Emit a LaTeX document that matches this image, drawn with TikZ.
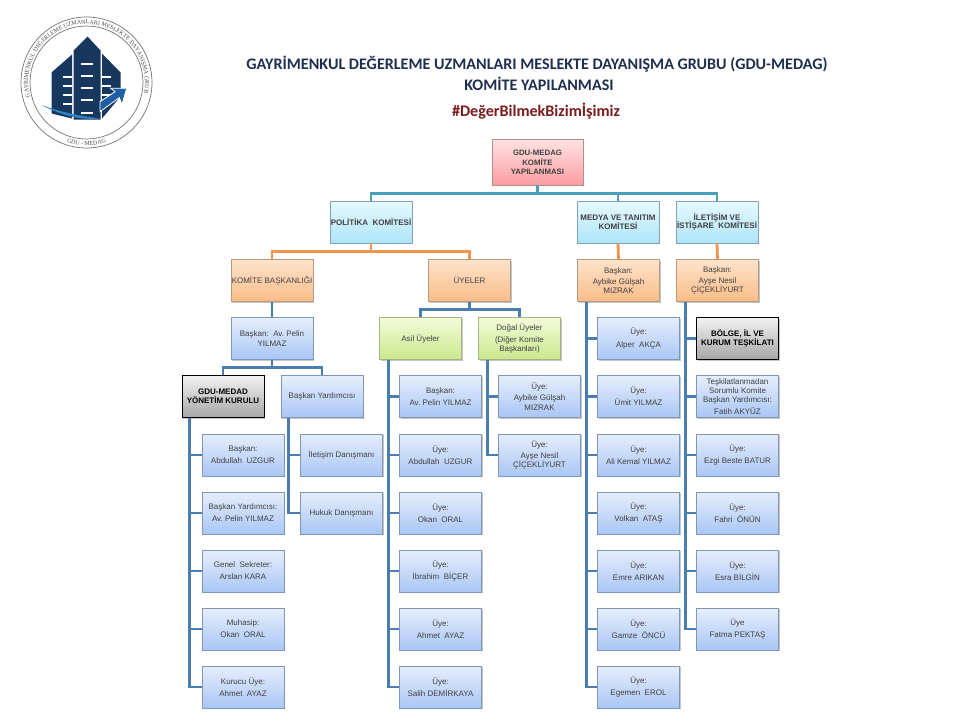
\documentclass[tikz,border=0pt]{standalone}
\usepackage{fontspec}
\setmainfont{Liberation Sans}
\newfontfamily\titlefont{Carlito}
\newfontfamily\logofont{Liberation Serif}
\usetikzlibrary{calc}
\usetikzlibrary{shadows}
\usetikzlibrary{decorations.text}

\definecolor{logoblue}{HTML}{17375E}
\definecolor{logoarrow}{HTML}{1F5FA8}
\definecolor{logoswoosh}{HTML}{2E86C8}
\definecolor{titleblue}{HTML}{1F2F4F}
\definecolor{titlered}{HTML}{7B1C1C}
\definecolor{buscolor}{HTML}{4B9DBA}
\definecolor{orangeline}{HTML}{F0964E}
\definecolor{stemcolor}{HTML}{4A7EB0}
\definecolor{bluetop}{HTML}{E6EEFC}
\definecolor{bluebot}{HTML}{A9C6F5}
\definecolor{blueedge}{HTML}{8096B5}
\definecolor{cyantop}{HTML}{E8F9FF}
\definecolor{cyanbot}{HTML}{ADE5F8}
\definecolor{cyanedge}{HTML}{7FA3B5}
\definecolor{orangetop}{HTML}{FFE3CC}
\definecolor{orangebot}{HTML}{F9BC88}
\definecolor{orangeedge}{HTML}{B59A80}
\definecolor{greentop}{HTML}{F3FBD8}
\definecolor{greenbot}{HTML}{CBE88F}
\definecolor{greenedge}{HTML}{A3B585}
\definecolor{redtop}{HTML}{FFE3E3}
\definecolor{redbot}{HTML}{FB9DA0}
\definecolor{rededge}{HTML}{B58C8C}

\tikzset{
  box/.style={draw=#1, line width=0.5pt, rectangle, minimum width=82pt, minimum height=42pt,
    inner sep=0pt, align=center, text=black!75, font=\fontsize{8}{9.2}\selectfont,
    drop shadow={shadow xshift=1pt, shadow yshift=-1.2pt, opacity=0.45}},
  bluebox/.style={box=blueedge, top color=bluetop, bottom color=bluebot},
  orangebox/.style={box=orangeedge, top color=orangetop, bottom color=orangebot},
  greenbox/.style={box=greenedge, top color=greentop, bottom color=greenbot},
  cyanbox/.style={box=cyanedge, top color=cyantop, bottom color=cyanbot,
    font=\fontsize{8}{8.8}\selectfont\bfseries},
  redbox/.style={box=rededge, top color=redtop, bottom color=redbot,
    font=\fontsize{7.8}{8.6}\selectfont\bfseries},
  greybox/.style={box=black, line width=0.9pt, top color=black!5, bottom color=black!35, text=black,
    font=\fontsize{8}{8.8}\selectfont\bfseries},
  topline/.style={draw=buscolor, line width=2.8pt},
  orangelink/.style={draw=orangeline, line width=2.8pt},
  bluelink/.style={draw=stemcolor, line width=2.8pt},
  titletext/.style={font=\titlefont\bfseries\fontsize{16.1}{18}\selectfont, text=titleblue, inner sep=0pt}
}

\begin{document}
\begin{tikzpicture}[x=1pt,y=-1pt]
  \useasboundingbox (0,0) rectangle (960,720);
  \fill[white] (0,0) rectangle (960,720);

  % logo
  \begin{scope}[shift={(86.5,82.5)},y=1pt]
    \draw[black!55, line width=0.7pt] (0,0) circle (65.5);
    \draw[black!55, line width=0.7pt] (0,0) circle (56.5);
    \path[decorate, decoration={text along path, text align=center,
      text={|\logofont\fontsize{6}{6}\selectfont\color{black!70}|GAYRİMENKUL DEĞERLEME UZMANLARI MESLEKTE DAYANIŞMA GRUBU}}]
      (192:58.5) arc (192:-12:58.5);
    \path[decorate, decoration={text along path, text align=center,
      text={|\logofont\fontsize{6}{6}\selectfont\color{black!70}|GDU - MEDAG}}]
      (240:63) arc (240:300:63);
    \fill[logoblue] (-13,32) -- (1,46) -- (14,32) -- (14,-37) -- (-13,-37) -- cycle;
    \fill[logoblue] (-35,10) -- (-14.5,28) -- (-14.5,-36) -- (-35,-31) -- cycle;
    \fill[logoblue] (15.5,29) -- (34,10) -- (34,-14) -- (15.5,-36) -- cycle;
    \fill[white] (-24,4.5) rectangle (-14.5,6.5);
    \fill[white] (-24,-4.5) rectangle (-14.5,-2.5);
    \fill[white] (-24,-13.5) rectangle (-14.5,-11.5);
    \fill[white] (-24,-22.5) rectangle (-14.5,-20.5);
    \fill[white] (-5.5,17.5) rectangle (6,19.5);
    \fill[white] (-5.5,5.5) rectangle (6,7.5);
    \fill[white] (-5.5,-6.5) rectangle (6,-4.5);
    \fill[white] (-5.5,-18.5) rectangle (6,-16.5);
    \fill[white] (-5.5,-31) rectangle (6,-29);
    \fill[white] (15.5,4.5) rectangle (24.5,6.5);
    \fill[white] (15.5,-4.5) rectangle (24.5,-2.5);
    \fill[white] (15.5,-13.5) rectangle (24.5,-11.5);
    \filldraw[fill=logoarrow, draw=white, line width=0.8pt] (13.5,-19.2) -- (28.5,-9.2) -- (24.2,-5.8) -- (40.2,-5.8)
      -- (35.5,-21.8) -- (32.8,-15.2) -- (13.5,-29.2) -- cycle;
    \fill[logoswoosh] (-44.8,-22.5) .. controls (-25,-30) and (-5,-34) .. (13.5,-35.8)
      .. controls (-5,-38) and (-25,-33) .. (-44.8,-22.5);
  \end{scope}

  % titles
  \node[titletext] (titleone) at (537,64) {GAYRİMENKUL DEĞERLEME UZMANLARI MESLEKTE DAYANIŞMA GRUBU (GDU-MEDAG)};
  \node[titletext] (titletwo) at (539,84) {KOMİTE YAPILANMASI};
  \node[titletext, text=titlered] (titlethree) at (536,111) {\#DeğerBilmekBizimİşimiz};

  % top of the chart
  \node[redbox, minimum width=91pt, minimum height=46pt] (root) at (537.5,162) {GDU-MEDAG\\[2pt]KOMİTE\\YAPILANMASI};
  \node[cyanbox] (politika) at (371,222) {POLİTİKA\ \ KOMİTESİ};
  \node[cyanbox] (medya) at (618,222) {MEDYA VE TANITIM\\KOMİTESİ};
  \node[cyanbox] (iletisim) at (717,222) {İLETİŞİM VE\\İSTİŞARE\ \ KOMİTESİ};

  \node[orangebox] (baskanlik) at (272,280.5) {KOMİTE BAŞKANLIĞI};
  \node[orangebox] (uyeler) at (469.5,280.5) {ÜYELER};
  \node[orangebox] (medyabaskan) at (618.5,280.5) {Başkan:\\[2pt]Aybike Gülşah\\MIZRAK};
  \node[orangebox] (iletisimbaskan) at (717.5,280.5) {Başkan:\\[2pt]Ayşe Nesil\\ÇİÇEKLİYURT};

  \node[bluebox] (pelin) at (272,338.5) {Başkan:\ \ Av.\ Pelin\\YILMAZ};
  \node[greybox] (yonetim) at (223,396.5) {GDU-MEDAD\\YÖNETİM KURULU};
  \node[bluebox] (yardimci) at (322,396.5) {Başkan Yardımcısı};
  \node[greenbox] (asil) at (420.5,338.5) {Asil Üyeler};
  \node[greenbox] (dogal) at (519.5,338.5) {Doğal Üyeler\\[2pt](Diğer Komite\\Başkanları)};

  % yonetim kurulu
  \node[bluebox] (yk1) at (243,455) {Başkan:\\[3pt]Abdullah\ \ UZGUR};
  \node[bluebox] (yk2) at (243,513) {Başkan Yardımcısı:\\[3pt]Av.\ Pelin YILMAZ};
  \node[bluebox] (yk3) at (243,571) {Genel\ \ Sekreter:\\[3pt]Arslan KARA};
  \node[bluebox] (yk4) at (243,629) {Muhasip:\\[3pt]Okan\ \ ORAL};
  \node[bluebox] (yk5) at (243,687) {Kurucu Üye:\\[3pt]Ahmet\ \ AYAZ};

  % danismanlar
  \node[bluebox] (dan1) at (341.5,455) {İletişim Danışmanı};
  \node[bluebox] (dan2) at (341.5,513) {Hukuk Danışmanı};

  % asil uyeler
  \node[bluebox] (asil1) at (440.5,396.5) {Başkan:\\[3pt]Av.\ Pelin YILMAZ};
  \node[bluebox] (asil2) at (440.5,455) {Üye:\\[3pt]Abdullah\ \ UZGUR};
  \node[bluebox] (asil3) at (440.5,513) {Üye:\\[3pt]Okan\ \ ORAL};
  \node[bluebox] (asil4) at (440.5,571) {Üye:\\[3pt]İbrahim\ \ BİÇER};
  \node[bluebox] (asil5) at (440.5,629) {Üye:\\[3pt]Ahmet\ \ AYAZ};
  \node[bluebox] (asil6) at (440.5,687) {Üye:\\[3pt]Salih\ DEMİRKAYA};

  % dogal uyeler
  \node[bluebox] (dogal1) at (539.5,396.5) {Üye:\\[2pt]Aybike Gülşah\\MIZRAK};
  \node[bluebox] (dogal2) at (539.5,455) {Üye:\\[2pt]Ayşe Nesil\\ÇİÇEKLİYURT};

  % medya
  \node[bluebox] (medya1) at (638.5,338.5) {Üye:\\[3pt]Alper\ \ AKÇA};
  \node[bluebox] (medya2) at (638.5,396.5) {Üye:\\[3pt]Ümit YILMAZ};
  \node[bluebox] (medya3) at (638.5,455) {Üye:\\[3pt]Ali Kemal YILMAZ};
  \node[bluebox] (medya4) at (638.5,513) {Üye:\\[3pt]Volkan\ \ ATAŞ};
  \node[bluebox] (medya5) at (638.5,571) {Üye:\\[3pt]Emre ARIKAN};
  \node[bluebox] (medya6) at (638.5,629) {Üye:\\[3pt]Gamze\ \ ÖNCÜ};
  \node[bluebox] (medya7) at (638.5,687) {Üye:\\[3pt]Egemen\ \ EROL};

  % iletisim
  \node[greybox] (bolge) at (737.5,338.5) {BÖLGE, İL VE\\KURUM TEŞKİLATI};
  \node[bluebox] (il1) at (737.5,396.5) {Teşkilatlanmadan\\Sorumlu Komite\\Başkan Yardımcısı:\\[2pt]Fatih AKYÜZ};
  \node[bluebox] (il2) at (737.5,455) {Üye:\\[3pt]Ezgi\ Beste BATUR};
  \node[bluebox] (il3) at (737.5,513) {Üye:\\[3pt]Fahri\ \ ÖNÜN};
  \node[bluebox] (il4) at (737.5,571) {Üye:\\[3pt]Esra BİLGİN};
  \node[bluebox] (il5) at (737.5,629) {Üye\\[3pt]Fatma PEKTAŞ};

  \coordinate (yktrunk) at ($(yonetim.south west)+(8,0)$);
  \coordinate (dantrunk) at ($(yardimci.south west)+(8,0)$);
  \coordinate (asiltrunk) at ($(asil.south west)+(9,0)$);
  \coordinate (dogaltrunk) at ($(dogal.south west)+(9,0)$);
  \coordinate (medyatrunk) at ($(medyabaskan.south west)+(9,0)$);
  \coordinate (iltrunk) at ($(iletisimbaskan.south west)+(9,0)$);

  \draw[topline] (root.south) -- ++(0,8) -| (politika.north);
  \draw[topline] (root.south) -- ++(0,8) -| (medya.north);
  \draw[topline] (root.south) -- ++(0,8) -| (iletisim.north);

  \draw[orangelink] (politika.south) -- ++(0,8) -| (baskanlik.north);
  \draw[orangelink] (politika.south) -- ++(0,8) -| (uyeler.north);
  \draw[orangelink] (medya.south) -- (medyabaskan.north);
  \draw[orangelink] (iletisim.south) -- (iletisimbaskan.north);

  \draw[bluelink] (baskanlik.south) -- (pelin.north);
  \draw[bluelink] (pelin.south) -- ++(0,8) -| (yonetim.north);
  \draw[bluelink] (pelin.south) -- ++(0,8) -| (yardimci.north);
  \draw[bluelink] (uyeler.south) -- ++(0,8) -| (asil.north);
  \draw[bluelink] (uyeler.south) -- ++(0,8) -| (dogal.north);

  \draw[bluelink] (yktrunk) |- (yk1.west);
  \draw[bluelink] (yktrunk) |- (yk2.west);
  \draw[bluelink] (yktrunk) |- (yk3.west);
  \draw[bluelink] (yktrunk) |- (yk4.west);
  \draw[bluelink] (yktrunk) |- (yk5.west);

  \draw[bluelink] (dantrunk) |- (dan1.west);
  \draw[bluelink] (dantrunk) |- (dan2.west);

  \draw[bluelink] (asiltrunk) |- (asil1.west);
  \draw[bluelink] (asiltrunk) |- (asil2.west);
  \draw[bluelink] (asiltrunk) |- (asil3.west);
  \draw[bluelink] (asiltrunk) |- (asil4.west);
  \draw[bluelink] (asiltrunk) |- (asil5.west);
  \draw[bluelink] (asiltrunk) |- (asil6.west);

  \draw[bluelink] (dogaltrunk) |- (dogal1.west);
  \draw[bluelink] (dogaltrunk) |- (dogal2.west);

  \draw[bluelink] (medyatrunk) |- (medya1.west);
  \draw[bluelink] (medyatrunk) |- (medya2.west);
  \draw[bluelink] (medyatrunk) |- (medya3.west);
  \draw[bluelink] (medyatrunk) |- (medya4.west);
  \draw[bluelink] (medyatrunk) |- (medya5.west);
  \draw[bluelink] (medyatrunk) |- (medya6.west);
  \draw[bluelink] (medyatrunk) |- (medya7.west);

  \draw[bluelink] (iltrunk) |- (bolge.west);
  \draw[bluelink] (iltrunk) |- (il1.west);
  \draw[bluelink] (iltrunk) |- (il2.west);
  \draw[bluelink] (iltrunk) |- (il3.west);
  \draw[bluelink] (iltrunk) |- (il4.west);
  \draw[bluelink] (iltrunk) |- (il5.west);
\end{tikzpicture}
\end{document}
